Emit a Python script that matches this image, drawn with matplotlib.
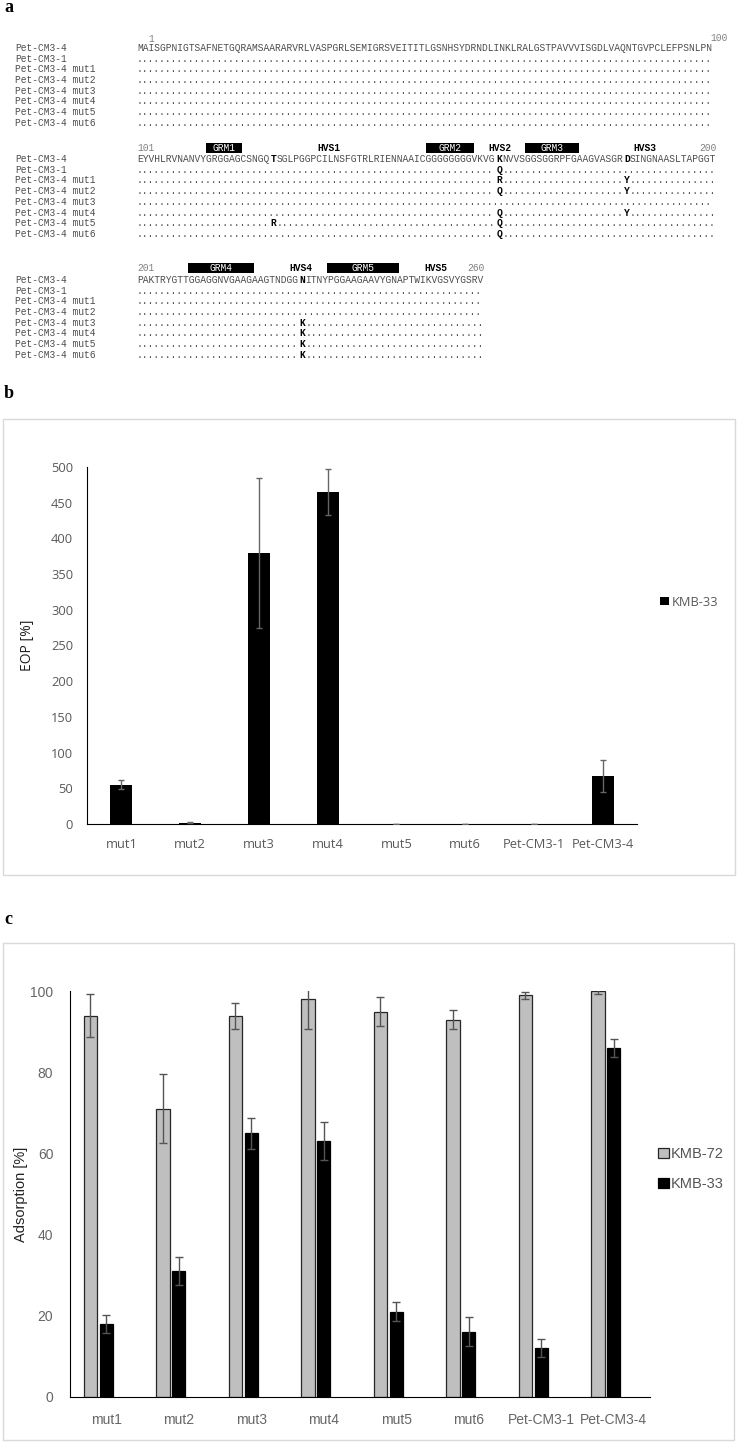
import matplotlib.pyplot as plt
from matplotlib.patches import Rectangle

W, H = 737, 1443

# ---- panel a: alignment ----
names = ["Pet-CM3-4", "Pet-CM3-1", "Pet-CM3-4 mut1", "Pet-CM3-4 mut2",
         "Pet-CM3-4 mut3", "Pet-CM3-4 mut4", "Pet-CM3-4 mut5", "Pet-CM3-4 mut6"]
seq_blocks = [
    "MAISGPNIGTSAFNETGQRAMSAARARVRLVASPGRLSEMIGRSVEITITLGSNHSYDRNDLINKLRALGSTPAVVVISGDLVAQNTGVPCLEFPSNLPN",
    "EYVHLRVNANVYGRGGAGCSNGQTSGLPGGPCILNSFGTRLRIENNAAICGGGGGGGGVKVGKNVVSGGSGGRPFGAAGVASGRDSINGNAASLTAPGGT",
    "PAKTRYGTTGGAGGNVGAAGAAGTNDGGNITNYPGGAAGAAVYGNAPTWIKVGSVYGSRV",
]
block_starts = [1, 101, 201]
bold_sites = [124, 163, 185, 229]
substitutions = {
    "Pet-CM3-1": {163: "Q"},
    "Pet-CM3-4 mut1": {163: "R", 185: "Y"},
    "Pet-CM3-4 mut2": {163: "Q", 185: "Y"},
    "Pet-CM3-4 mut3": {229: "K"},
    "Pet-CM3-4 mut4": {163: "Q", 185: "Y", 229: "K"},
    "Pet-CM3-4 mut5": {124: "R", 163: "Q", 229: "K"},
    "Pet-CM3-4 mut6": {163: "Q", 229: "K"},
}
grm_boxes = {"GRM1": (113, 118), "GRM2": (151, 158), "GRM3": (168, 176),
             "GRM4": (210, 220), "GRM5": (234, 245)}
hvs_sites = {"HVS1": 134, "HVS2": 163.5, "HVS3": 188.5, "HVS4": 229.3, "HVS5": 252.5}

# ---- panel b / c: bar data ----
categories = ["mut1", "mut2", "mut3", "mut4", "mut5", "mut6", "Pet-CM3-1", "Pet-CM3-4"]
eop = [55, 2, 380, 465, 0.4, 0.3, 0.3, 67]
eop_err = [6, 1, 105, 32, 0.3, 0.2, 0.2, 22]
ads_72 = [94, 71, 94, 98, 95, 93, 99, 100]
ads_72_err = [5.3, 8.5, 3.2, 7.2, 3.6, 2.4, 0.9, 0.6]
ads_33 = [18, 31, 65, 63, 21, 16, 12, 86]
ads_33_err = [2.2, 3.5, 3.8, 4.7, 2.3, 3.6, 2.3, 2.3]

fig = plt.figure(figsize=(W / 100, H / 100), dpi=100)
bg = fig.add_axes([0, 0, 1, 1])
bg.set_xlim(0, W)
bg.set_ylim(H, 0)
bg.axis("off")

mono = "Liberation Mono"
cw = 5.8                       # px per character
fs_mono = cw / 0.6 * 72 / 100  # pt
x0 = 137
txt_col = "#4d4d4d"

header_y = [39, 148, 268]
first_row = [48, 159, 280]
row_gap = 10.7

def resx(pos, start):
    return x0 + (pos - start) * cw

def draw_row(chars, marks, start, y):
    # split row into plain runs and bold residues, so texts do not overlap
    i = 0
    n = len(chars)
    while i < n:
        p = start + i
        if p in marks:
            bg.text(resx(p, start), y, marks[p], fontsize=fs_mono, family=mono,
                    weight="bold", color="black", va="center")
            i += 1
        else:
            j = i
            while j < n and (start + j) not in marks:
                j += 1
            bg.text(resx(p, start), y, "".join(chars[i:j]), fontsize=fs_mono,
                    family=mono, color=txt_col, va="center")
            i = j

for b, seq in enumerate(seq_blocks):
    start = block_starts[b]
    end = start + len(seq) - 1
    hy = header_y[b]
    if b == 0:
        bg.text(resx(start, start) + 2.5 * cw, hy, str(start), fontsize=fs_mono,
                family=mono, color="#808080", ha="center", va="center")
        bg.text(728, hy - 1, str(end), fontsize=fs_mono, family=mono,
                color="#808080", ha="right", va="center")
    else:
        bg.text(x0, hy, str(start), fontsize=fs_mono, family=mono,
                color="#808080", ha="left", va="center")
        bg.text(resx(end + 1, start), hy, str(end), fontsize=fs_mono, family=mono,
                color="#808080", ha="right", va="center")
    for lab, (s, e) in grm_boxes.items():
        if start <= s <= end:
            bx0 = resx(s, start) - 1
            bx1 = resx(e + 1, start) + 1
            bg.add_patch(Rectangle((bx0, hy - 5), bx1 - bx0, 10, color="black", lw=0))
            bg.text((bx0 + bx1) / 2, hy, lab, fontsize=fs_mono, family=mono,
                    color="white", ha="center", va="center")
    for lab, p in hvs_sites.items():
        if start <= p <= end + 1:
            bg.text(resx(p, start), hy, lab, fontsize=fs_mono, family=mono,
                    weight="bold", color="black", ha="center", va="center")
    for r, name in enumerate(names):
        y = first_row[b] + r * row_gap
        bg.text(15, y, name, fontsize=fs_mono, family=mono, color=txt_col, va="center")
        if r == 0:
            chars = list(seq)
            marks = {p: seq[p - start] for p in bold_sites if start <= p <= end}
        else:
            chars = ["."] * len(seq)
            marks = {p: a for p, a in substitutions[name].items() if start <= p <= end}
        draw_row(chars, marks, start, y)

# panel letters and frames
for lab, y in [("a", 8), ("b", 394), ("c", 919)]:
    bg.text(4, y, lab, fontsize=13, family="Liberation Serif", weight="bold",
            va="center", ha="left")
bg.add_patch(Rectangle((3, 419), 732, 456, fill=False, ec="#d9d9d9", lw=1))
bg.add_patch(Rectangle((3, 943), 731, 497, fill=False, ec="#d9d9d9", lw=1))

grey_txt = "#595959"
x = list(range(len(categories)))

# ---- panel b ----
axb = fig.add_axes([87 / W, 1 - 824 / H, 550 / W, 357 / H])
axb.set_facecolor("none")
axb.bar(x, eop, width=0.32, color="black", label="KMB-33", zorder=2)
axb.errorbar(x, eop, yerr=eop_err, fmt="none", ecolor="#666666", elinewidth=1,
             capsize=2.5, capthick=1, zorder=3)
axb.set_xlim(-0.5, 7.5)
axb.set_ylim(0, 500)
axb.set_yticks(range(0, 501, 50))
axb.set_xticks(x)
axb.set_xticklabels(categories)
for s in ["top", "right"]:
    axb.spines[s].set_visible(False)
axb.tick_params(length=0, labelsize=9.3, labelcolor=grey_txt)
axb.tick_params(axis="y", pad=10)
axb.tick_params(axis="x", pad=10)
for t in axb.get_xticklabels() + axb.get_yticklabels():
    t.set_family("Open Sans")
axb.set_ylabel("EOP [%]", fontsize=10, family="Open Sans", color="#222222")
axb.yaxis.set_label_coords((35 - 87) / 550, 0.5)
axb.legend(loc="center left", bbox_to_anchor=(654 / W, 1 - 602 / H),
           bbox_transform=fig.transFigure, frameon=False, handlelength=0.65,
           handleheight=0.65, handletextpad=0.2, borderpad=0,
           prop={"family": "Open Sans", "size": 9.3}, labelcolor=grey_txt)

# ---- panel c ----
axc = fig.add_axes([70 / W, 1 - 1396.7 / H, 580 / W, 405.4 / H])
axc.set_facecolor("none")
bw = 0.185
xg = [i - 0.22 for i in x]
xk = [i + 0.0 for i in x]
axc.bar(xg, ads_72, width=bw, color="#bfbfbf", edgecolor="#262626", lw=0.9,
        label="KMB-72", zorder=2)
axc.bar(xk, ads_33, width=bw, color="black", edgecolor="black", lw=0.9,
        label="KMB-33", zorder=2)
axc.errorbar(xg, ads_72, yerr=ads_72_err, fmt="none", ecolor="#555555",
             elinewidth=1, capsize=3, capthick=1, zorder=3)
axc.errorbar(xk, ads_33, yerr=ads_33_err, fmt="none", ecolor="#555555",
             elinewidth=1, capsize=3, capthick=1, zorder=3)
axc.set_xlim(-0.5, 7.5)
axc.set_ylim(0, 100)
axc.set_yticks(range(0, 101, 20))
axc.set_xticks(x)
axc.set_xticklabels(categories)
for s in ["top", "right"]:
    axc.spines[s].set_visible(False)
axc.tick_params(length=0, labelsize=10, labelcolor="#666666")
axc.tick_params(axis="y", pad=12)
axc.tick_params(axis="x", pad=12)
for t in axc.get_xticklabels() + axc.get_yticklabels():
    t.set_family("Liberation Sans")
axc.set_ylabel("Adsorption [%]", fontsize=10.5, family="Liberation Sans",
               color="#222222")
axc.yaxis.set_label_coords((28 - 70) / 580, 0.5)
axc.legend(loc="center left", bbox_to_anchor=(651 / W, 1 - 1169 / H),
           bbox_transform=fig.transFigure, frameon=False, handlelength=0.7,
           handleheight=0.7, handletextpad=0.15, borderpad=0, labelspacing=1.1,
           prop={"family": "Liberation Sans", "size": 10.5}, labelcolor="#555555")

fig.savefig("out.png", dpi=100)
